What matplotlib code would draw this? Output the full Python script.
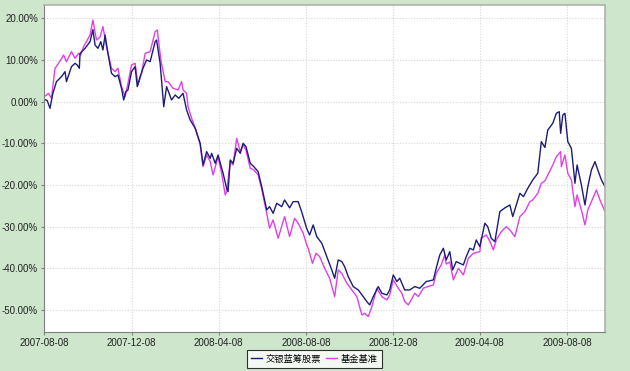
import matplotlib

matplotlib.use("Agg")
import matplotlib.dates as mdates
import matplotlib.pyplot as plt
import pandas as pd
from matplotlib.ticker import FuncFormatter

# 交银蓝筹股票 cumulative return (%)
fund_dates = [
    "2007-08-08", "2007-08-12", "2007-08-16", "2007-08-20", "2007-08-25", "2007-09-01",
    "2007-09-06", "2007-09-08", "2007-09-15", "2007-09-20", "2007-09-23", "2007-09-26",
    "2007-09-27", "2007-10-04", "2007-10-11", "2007-10-15", "2007-10-18", "2007-10-22",
    "2007-10-26", "2007-10-29", "2007-11-01", "2007-11-05", "2007-11-10", "2007-11-15",
    "2007-11-19", "2007-11-24", "2007-11-27", "2007-11-30", "2007-12-03", "2007-12-08",
    "2007-12-13", "2007-12-16", "2007-12-20", "2007-12-24", "2007-12-29", "2008-01-03",
    "2008-01-10", "2008-01-12", "2008-01-17", "2008-01-22", "2008-01-26", "2008-02-02",
    "2008-02-07", "2008-02-12", "2008-02-18", "2008-02-23", "2008-02-28", "2008-03-06",
    "2008-03-13", "2008-03-17", "2008-03-22", "2008-03-27", "2008-03-29", "2008-04-03",
    "2008-04-07", "2008-04-14", "2008-04-19", "2008-04-21", "2008-04-24", "2008-04-28",
    "2008-05-03", "2008-05-08", "2008-05-12", "2008-05-16", "2008-05-22", "2008-05-27",
    "2008-06-02", "2008-06-07", "2008-06-14", "2008-06-18", "2008-06-23", "2008-06-28",
    "2008-07-05", "2008-07-09", "2008-07-16", "2008-07-21", "2008-07-28", "2008-08-02",
    "2008-08-09", "2008-08-13", "2008-08-18", "2008-08-23", "2008-08-30", "2008-09-06",
    "2008-09-13", "2008-09-17", "2008-09-22", "2008-09-27", "2008-10-01", "2008-10-06",
    "2008-10-13", "2008-10-20", "2008-10-27", "2008-11-01", "2008-11-05", "2008-11-10",
    "2008-11-17", "2008-11-22", "2008-11-29", "2008-12-03", "2008-12-08", "2008-12-13",
    "2008-12-17", "2008-12-24", "2008-12-31", "2009-01-07", "2009-01-14", "2009-01-23",
    "2009-02-02", "2009-02-06", "2009-02-11", "2009-02-16", "2009-02-20", "2009-02-25",
    "2009-03-01", "2009-03-06", "2009-03-16", "2009-03-20", "2009-03-25", "2009-03-30",
    "2009-04-03", "2009-04-08", "2009-04-15", "2009-04-19", "2009-04-24", "2009-04-29",
    "2009-05-06", "2009-05-13", "2009-05-20", "2009-05-24", "2009-06-03", "2009-06-08",
    "2009-06-14", "2009-06-21", "2009-06-28", "2009-07-03", "2009-07-08", "2009-07-12",
    "2009-07-19", "2009-07-24", "2009-07-28", "2009-07-30", "2009-08-02", "2009-08-05",
    "2009-08-09", "2009-08-14", "2009-08-19", "2009-08-22", "2009-08-28", "2009-09-02",
    "2009-09-06", "2009-09-11", "2009-09-16", "2009-09-20", "2009-09-25", "2009-09-30",
]
fund_values = [
    0.5, 0.3, -1.6, 2.0, 4.8, 6.0,
    7.2, 4.8, 8.4, 9.2, 8.8, 8.0,
    11.6, 12.8, 14.4, 17.3, 13.6, 12.8,
    14.4, 12.4, 16.0, 11.6, 6.8, 6.0,
    6.4, 3.2, 0.4, 2.4, 2.8, 7.2,
    8.4, 3.6, 6.0, 8.0, 10.0, 9.6,
    14.4, 14.8, 9.2, -1.2, 3.6, 0.4,
    1.6, 0.8, 2.0, -2.0, -4.4, -6.4,
    -10.0, -15.2, -12.0, -13.6, -12.4, -14.8,
    -12.8, -17.2, -20.8, -21.6, -14.0, -14.8,
    -11.2, -12.4, -10.0, -10.8, -14.8, -15.6,
    -16.8, -20.4, -26.0, -25.2, -26.8, -24.4,
    -25.2, -23.6, -25.5, -24.0, -24.0, -26.5,
    -30.5, -32.0, -29.6, -32.4, -34.0, -37.2,
    -40.4, -42.4, -38.0, -38.4, -39.6, -42.0,
    -44.4, -45.2, -46.8, -48.0, -48.8, -46.8,
    -44.4, -46.0, -46.4, -45.2, -41.6, -43.2,
    -42.4, -45.2, -45.2, -44.4, -44.8, -43.2,
    -42.8, -40.0, -36.8, -35.2, -38.0, -36.0,
    -40.4, -38.4, -39.2, -37.2, -35.2, -35.6,
    -33.2, -34.8, -29.2, -30.0, -32.8, -33.6,
    -26.4, -25.5, -24.8, -27.6, -22.0, -22.8,
    -20.8, -18.8, -17.2, -9.6, -11.0, -6.8,
    -5.2, -2.8, -2.4, -7.6, -3.2, -2.8,
    -9.6, -11.2, -19.6, -15.2, -20.0, -24.8,
    -20.4, -16.4, -14.4, -16.4, -18.8, -20.4,
]

# 基金基准 cumulative return (%)
bench_dates = [
    "2007-08-08", "2007-08-14", "2007-08-18", "2007-08-23", "2007-08-28", "2007-09-04",
    "2007-09-08", "2007-09-15", "2007-09-20", "2007-09-25", "2007-09-28", "2007-10-02",
    "2007-10-11", "2007-10-15", "2007-10-20", "2007-10-25", "2007-10-29", "2007-11-03",
    "2007-11-10", "2007-11-15", "2007-11-19", "2007-11-24", "2007-11-29", "2007-12-03",
    "2007-12-08", "2007-12-13", "2007-12-17", "2007-12-22", "2007-12-27", "2008-01-03",
    "2008-01-10", "2008-01-13", "2008-01-18", "2008-01-24", "2008-01-28", "2008-02-04",
    "2008-02-11", "2008-02-16", "2008-02-18", "2008-02-23", "2008-02-25", "2008-03-01",
    "2008-03-07", "2008-03-13", "2008-03-17", "2008-03-22", "2008-03-27", "2008-03-31",
    "2008-04-07", "2008-04-12", "2008-04-17", "2008-04-19", "2008-04-24", "2008-04-28",
    "2008-05-03", "2008-05-08", "2008-05-12", "2008-05-16", "2008-05-22", "2008-05-27",
    "2008-06-02", "2008-06-07", "2008-06-14", "2008-06-18", "2008-06-23", "2008-06-30",
    "2008-07-09", "2008-07-16", "2008-07-23", "2008-07-29", "2008-08-04", "2008-08-09",
    "2008-08-11", "2008-08-17", "2008-08-22", "2008-08-27", "2008-09-03", "2008-09-10",
    "2008-09-17", "2008-09-22", "2008-09-27", "2008-10-04", "2008-10-11", "2008-10-18",
    "2008-10-25", "2008-10-29", "2008-11-03", "2008-11-08", "2008-11-15", "2008-11-22",
    "2008-11-29", "2008-12-03", "2008-12-08", "2008-12-15", "2008-12-20", "2008-12-24",
    "2008-12-29", "2009-01-02", "2009-01-07", "2009-01-12", "2009-01-19", "2009-01-25",
    "2009-02-02", "2009-02-06", "2009-02-13", "2009-02-18", "2009-02-20", "2009-02-25",
    "2009-03-02", "2009-03-09", "2009-03-16", "2009-03-23", "2009-03-30", "2009-04-08",
    "2009-04-10", "2009-04-17", "2009-04-22", "2009-04-27", "2009-05-01", "2009-05-08",
    "2009-05-15", "2009-05-20", "2009-05-27", "2009-06-03", "2009-06-10", "2009-06-17",
    "2009-06-21", "2009-06-28", "2009-07-03", "2009-07-08", "2009-07-12", "2009-07-19",
    "2009-07-24", "2009-07-30", "2009-07-31", "2009-08-05", "2009-08-09", "2009-08-14",
    "2009-08-19", "2009-08-22", "2009-08-28", "2009-09-02", "2009-09-06", "2009-09-13",
    "2009-09-18", "2009-09-23", "2009-09-30",
]
bench_values = [
    1.2, 2.0, 0.8, 8.0, 9.2, 11.2,
    9.6, 12.0, 10.4, 11.6, 11.2, 13.2,
    16.0, 19.6, 14.8, 15.5, 18.0, 13.2,
    8.0, 7.2, 8.0, 3.6, 1.2, 4.4,
    8.8, 9.2, 4.0, 6.8, 11.6, 12.0,
    16.8, 17.2, 10.0, 4.8, 4.8, 3.2,
    2.8, 4.8, 2.8, 2.0, -1.2, -4.0,
    -6.8, -10.4, -15.6, -12.8, -14.4, -17.6,
    -13.2, -17.2, -22.4, -21.6, -14.4, -15.2,
    -8.8, -12.0, -10.4, -11.6, -16.0, -16.4,
    -17.6, -21.0, -26.8, -30.4, -28.4, -32.8,
    -27.6, -32.4, -28.0, -29.5, -31.6, -34.4,
    -35.2, -38.8, -36.4, -37.2, -40.0, -42.4,
    -46.8, -40.4, -41.2, -43.6, -45.2, -46.8,
    -51.2, -50.8, -51.6, -49.2, -44.8, -46.8,
    -47.6, -46.4, -42.8, -44.8, -46.0, -48.0,
    -48.8, -47.6, -46.0, -46.8, -44.8, -44.4,
    -44.0, -41.2, -39.2, -36.8, -39.0, -38.5,
    -42.8, -40.0, -41.6, -37.6, -36.4, -36.0,
    -32.8, -32.0, -33.5, -35.6, -33.2, -31.2,
    -30.0, -30.8, -32.4, -27.6, -26.4, -24.0,
    -23.6, -22.0, -19.6, -19.0, -17.6, -15.2,
    -13.2, -12.0, -15.6, -12.8, -17.2, -18.8,
    -25.2, -22.4, -26.0, -29.6, -26.0, -23.2,
    -21.2, -23.6, -26.4,
]

tick_dates = [
    "2007-08-08", "2007-12-08", "2008-04-08", "2008-08-08",
    "2008-12-08", "2009-04-08", "2009-08-08",
]
y_ticks = [-50, -40, -30, -20, -10, 0, 10, 20]

fund_name = "交银蓝筹股票"
bench_name = "基金基准"

plt.rcParams["font.family"] = ["Noto Sans CJK SC", "DejaVu Sans"]

bg = "#cde6cc"
fig = plt.figure(figsize=(6.3, 3.71), dpi=100, facecolor=bg)
ax = fig.add_axes([0.0703, 0.1051, 0.8900, 0.8814])
ax.set_facecolor("white")

fund_x = pd.to_datetime(fund_dates)
bench_x = pd.to_datetime(bench_dates)

line_b, = ax.plot(bench_x, bench_values, color="#e040e6", lw=1.0, label=bench_name)
line_f, = ax.plot(fund_x, fund_values, color="#1c1c78", lw=1.0, label=fund_name)

ax.set_xlim(pd.Timestamp("2007-08-08"), pd.Timestamp("2009-09-30"))
ax.set_ylim(-55.3, 23.2)
ax.set_xticks(pd.to_datetime(tick_dates))
ax.xaxis.set_major_formatter(mdates.DateFormatter("%Y-%m-%d"))
ax.set_yticks(y_ticks)
ax.yaxis.set_major_formatter(FuncFormatter(lambda v, _: f"{v:.2f}%"))

ax.grid(True, color="#d8d8d8", linestyle=(0, (1, 1.5)), linewidth=0.8)
ax.set_axisbelow(True)
ax.tick_params(length=2.5, width=0.8, color="#808080", labelsize=7,
               labelcolor="#222222", pad=2)
for label in ax.get_xticklabels() + ax.get_yticklabels():
    label.set_family(["Liberation Sans", "DejaVu Sans"])

for side in ("top", "right"):
    ax.spines[side].set_color("#b0b0b0")
    ax.spines[side].set_linewidth(1.2)
for side in ("left", "bottom"):
    ax.spines[side].set_color("#808080")
    ax.spines[side].set_linewidth(0.8)

legend = fig.legend(
    handles=[line_f, line_b],
    loc="center",
    bbox_to_anchor=(0.499, 0.032),
    ncol=2,
    fontsize=6.7,
    frameon=True,
    fancybox=False,
    edgecolor="black",
    handlelength=1.1,
    handletextpad=0.4,
    columnspacing=0.6,
    borderpad=0.45,
)
legend.get_frame().set_linewidth(0.8)

fig.savefig("out.png", dpi=100, facecolor=bg)
plt.close(fig)
